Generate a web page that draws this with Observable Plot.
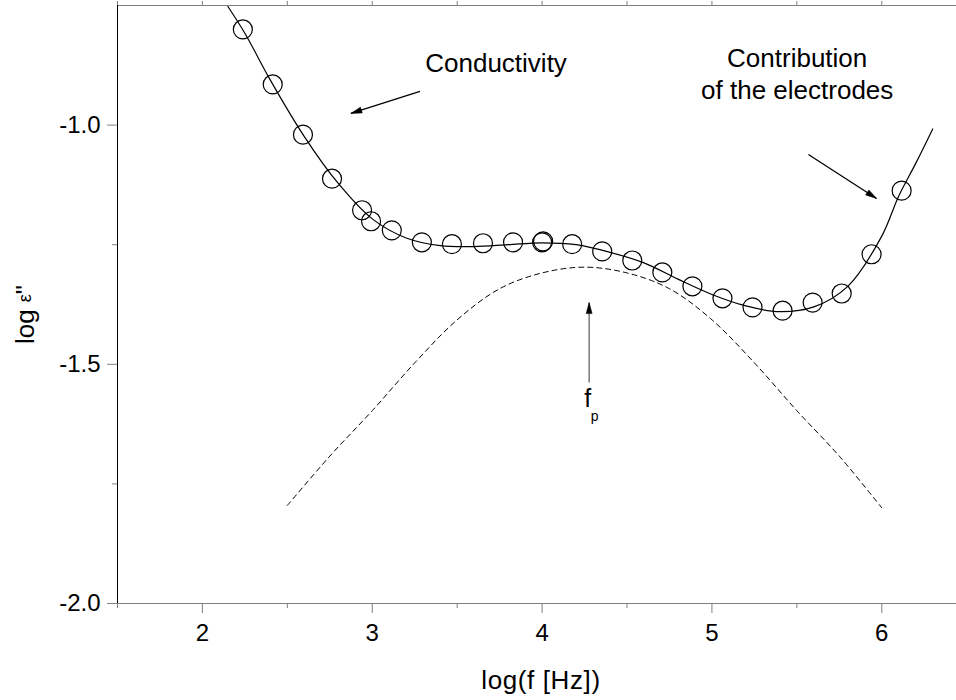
<!DOCTYPE html>
<html><head><meta charset="utf-8">
<script src="https://cdn.jsdelivr.net/npm/d3@7"></script>
<script src="https://cdn.jsdelivr.net/npm/@observablehq/plot@0.6"></script>
<style>html,body{margin:0;padding:0;background:#fff}#chart svg{display:block}</style>
</head><body><div id="chart"></div>
<script>
// Measured points (circles)
const obsX = [2.238, 2.414, 2.592, 2.763, 2.940, 2.993, 3.115, 3.292, 3.469, 3.652, 3.829, 4.000, 4.006, 4.177, 4.354, 4.531, 4.708, 4.885, 5.062, 5.239, 5.416, 5.593, 5.764, 5.940, 6.117];
const obsY = [-0.800, -0.915, -1.020, -1.112, -1.178, -1.201, -1.220, -1.245, -1.249, -1.247, -1.245, -1.245, -1.243, -1.249, -1.264, -1.283, -1.308, -1.337, -1.362, -1.381, -1.388, -1.371, -1.352, -1.270, -1.137];
// Fit curve (solid)
const fitX = [2.15, 2.25, 2.40, 2.60, 2.80, 3.00, 3.20, 3.40, 3.60, 3.80, 4.00, 4.20, 4.40, 4.60, 4.80, 5.00, 5.20, 5.40, 5.60, 5.80, 6.00, 6.10, 6.20, 6.30];
const fitY = [-0.752, -0.808, -0.906, -1.024, -1.122, -1.196, -1.236, -1.252, -1.254, -1.250, -1.246, -1.250, -1.266, -1.288, -1.322, -1.354, -1.378, -1.390, -1.380, -1.337, -1.232, -1.148, -1.080, -1.008];
// Relaxation peak (dashed)
const peakX = [2.50, 2.75, 3.00, 3.25, 3.50, 3.75, 4.00, 4.25, 4.50, 4.75, 5.00, 5.25, 5.50, 5.75, 6.00];
const peakY = [-1.795, -1.692, -1.597, -1.497, -1.407, -1.342, -1.309, -1.297, -1.309, -1.342, -1.407, -1.497, -1.597, -1.692, -1.800];
// Axis ticks
const xMajor = [2, 3, 4, 5, 6];
const xMinor = [1.5, 2.5, 3.5, 4.5, 5.5];
const yMajor = [-2.0, -1.5, -1.0];
const yMinor = [-1.75, -1.25];
// Annotations
const noteText = ["Conductivity", "Contribution", "of the electrodes"];
const noteX = [3.729, 5.502, 5.502];
const noteY = [-0.871, -0.861, -0.927];
const arrowX1 = [3.281, 5.568, 4.277];
const arrowY1 = [-0.9295, -1.0613, -1.538];
const arrowX2 = [2.874, 5.969, 4.277];
const arrowY2 = [-0.9755, -1.1533, -1.371];
const arrowColor = ["black", "black", "#666666"];
const fpX = [4.268];
const fpY = [-1.573];
const xTitle = "log(f [Hz])";
const yTitle = "log ε\"";

const W = 956, H = 700, ML = 117, MR = 0, MT = 5, MB = 97;
const xDomain = [1.5, 6.44], yDomain = [-2.0, -0.75];

const obs = obsX.map((x, i) => ({x, y: obsY[i]}));
const fit = fitX.map((x, i) => ({x, y: fitY[i]}));
const peak = peakX.map((x, i) => ({x, y: peakY[i]}));
const notes = noteText.map((t, i) => ({t, x: noteX[i], y: noteY[i]}));

// Screen-space scales (same as the plot's) to orient the filled arrow heads
const sx = Plot.scale({x: {domain: xDomain, range: [ML, W - MR]}});
const sy = Plot.scale({y: {domain: yDomain, range: [H - MB, MT]}});
const arrows = arrowX1.map((x1, i) => {
  const dxp = sx.apply(arrowX2[i]) - sx.apply(x1);
  const dyp = sy.apply(arrowY2[i]) - sy.apply(arrowY1[i]);
  return {x1, y1: arrowY1[i], x2: arrowX2[i], y2: arrowY2[i], c: arrowColor[i], a: Math.atan2(dyp, dxp) * 180 / Math.PI};
});
// narrow filled triangle whose tip is at the symbol's origin, pointing to +x
const headSymbol = {draw(ctx) { ctx.moveTo(0, 0); ctx.lineTo(-11, 3); ctx.lineTo(-11, -3); ctx.closePath(); }};
const fp = fpX.map((x, i) => ({x, y: fpY[i]}));

const font = "'Liberation Sans', Arial, Helvetica, sans-serif";
const grey = "#808080";

const chart = Plot.plot({
  width: W, height: H,
  marginLeft: ML, marginRight: MR, marginTop: MT, marginBottom: MB,
  style: {fontFamily: font, fontSize: "24px", background: "white", color: "black", overflow: "visible"},
  x: {domain: xDomain, axis: null, label: null},
  y: {domain: yDomain, axis: null, label: null},
  marks: [
    Plot.ruleY([-0.75], {stroke: grey}),
    Plot.axisX({ticks: [...xMajor, ...xMinor], anchor: "top", tickSize: 5, tickFormat: () => "", stroke: grey, label: null}),
    Plot.ruleY([-2.0], {stroke: grey}),
    Plot.axisX({ticks: xMajor, anchor: "bottom", tickSize: 10, tickPadding: 10, tickFormat: d => String(d), stroke: grey, fill: "black", fontSize: 24, label: null}),
    Plot.axisX({ticks: xMinor, anchor: "bottom", tickSize: 5, tickFormat: () => "", stroke: grey, label: null}),
    Plot.axisY({ticks: yMajor, anchor: "left", tickSize: 10, tickPadding: 7, tickFormat: d => d.toFixed(1), stroke: grey, fill: "black", fontSize: 24, label: null}),
    Plot.axisY({ticks: yMinor, anchor: "left", tickSize: 5, tickFormat: () => "", stroke: grey, label: null}),
    Plot.ruleX([1.5], {stroke: "black"}),
    Plot.line(peak, {x: "x", y: "y", stroke: "black", strokeWidth: 1, strokeDasharray: "5,4", curve: "catmull-rom"}),
    Plot.line(fit, {x: "x", y: "y", stroke: "black", strokeWidth: 1.2, curve: "catmull-rom", clip: true}),
    Plot.dot(obs, {x: "x", y: "y", r: 9.5, stroke: "black", strokeWidth: 1.2, fill: "none"}),
    Plot.link(arrows, {x1: "x1", y1: "y1", x2: "x2", y2: "y2", stroke: d => d.c, strokeWidth: 1.3}),
    Plot.dot(arrows, {x: "x2", y: "y2", symbol: headSymbol, rotate: "a", fill: "black", stroke: "black", strokeWidth: 0.5, r: 4}),
    Plot.text(notes, {x: "x", y: "y", text: "t", fontSize: 26, fill: "black"}),
    Plot.text(fp, {x: "x", y: "y", text: () => "f", fontSize: 25, fill: "black"}),
    Plot.text(fp, {x: "x", y: "y", text: () => "p", fontSize: 14, dx: 7, dy: 17, fill: "black"}),
    Plot.text([xTitle], {frameAnchor: "bottom", text: d => d, textAnchor: "middle", lineAnchor: "middle", dy: 77, dx: 4, fontSize: 26, fill: "black"}),
    Plot.text([yTitle], {frameAnchor: "left", text: d => d, textAnchor: "middle", lineAnchor: "middle", rotate: -90, dx: -92, dy: 10, fontSize: 26, fill: "black"})
  ]
});
document.getElementById("chart").appendChild(chart);

// x title: slightly wider letter spacing like the reference
d3.select(chart).selectAll("text").each(function() {
  if (this.textContent === xTitle) d3.select(this).attr("letter-spacing", 0.6);
  if (this.textContent === yTitle) {
    const t = d3.select(this);
    t.text(null);
    t.append("tspan").text("log ");
    t.append("tspan").attr("font-size", 18).attr("dy", -3).text("ε");
    t.append("tspan").attr("dy", 3).text("\"");
  }
});
</script>
</body></html>
